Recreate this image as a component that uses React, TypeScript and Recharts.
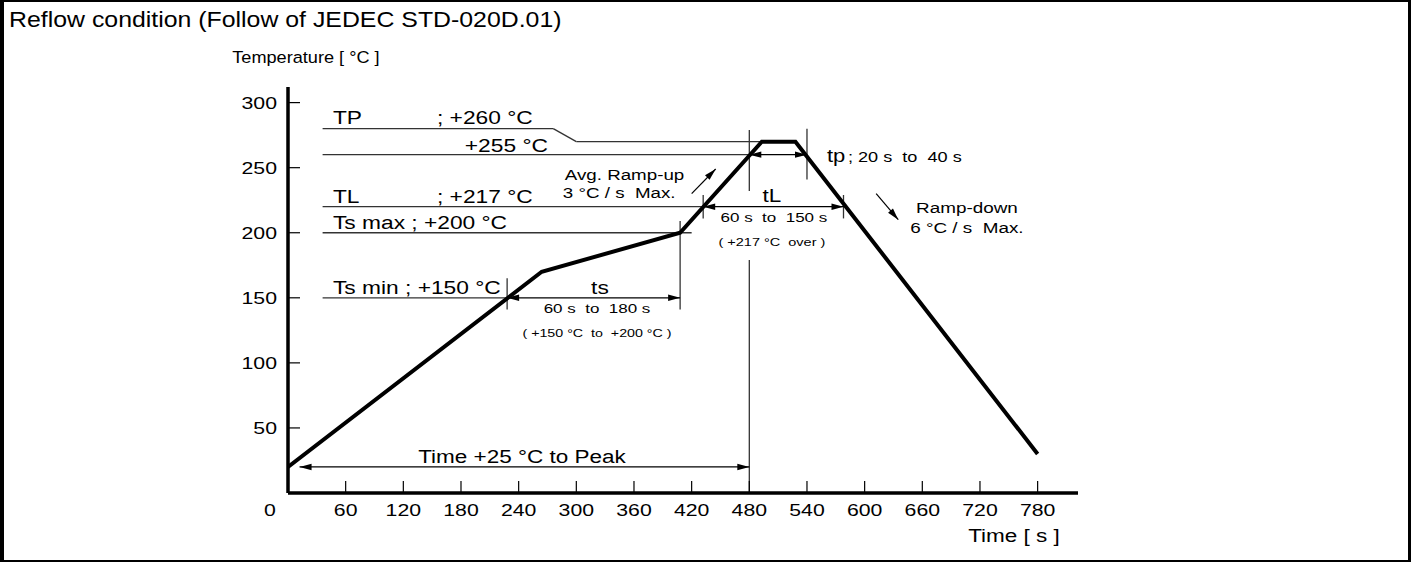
import React from "react";
import { LineChart, Line, XAxis, YAxis, ReferenceLine, ReferenceDot } from "recharts";

const FONT = "'Liberation Sans', Arial, Helvetica, sans-serif";
// the source drawing is stretched sideways, so text is too
const SX = 1.25;

// reflow profile: time [s] -> temperature [°C]
const profileTime = [0, 264, 408, 493, 528, 780];
const profileTemp = [20, 170, 200, 270, 270, 30];

const timeTicks = [0, 60, 120, 180, 240, 300, 360, 420, 480, 540, 600, 660, 720, 780];
const tempTicks = [50, 100, 150, 200, 250, 300];

// thin guide lines, as [time, temp] pairs
const tpGuide = [[36, 280], [276, 280], [300, 270], [493, 270]];
const levelGuides = [
    [[36, 260], [480, 260]],
    [[36, 220], [432, 220]],
    [[36, 200], [420, 200]],
    [[36, 150], [228, 150]],
];
const markers = [
    [[228, 141], [228, 165]],
    [[408, 141], [408, 209]],
    [[432, 211], [432, 229]],
    [[578, 211], [578, 229]],
    [[480, 232], [480, 279]],
    [[480, 0], [480, 179]],
    [[540, 241], [540, 280]],
];
// double headed spans
const spans = [
    [[228, 150], [408, 150]],
    [[432, 220], [578, 220]],
    [[480, 260], [540, 260]],
    [[12, 20], [480, 20]],
];
// ramp arrows (head at second point)
const slopes = [
    [[420, 230], [445, 249]],
    [[612, 230], [635, 210]],
];

const data = profileTime.map((t, i) => ({ t, T: profileTemp[i] }));

const SText = ({ x, y, size, anchor = "start", sx = SX, children }: any) => (
    <text
        transform={`translate(${x},${y}) scale(${sx},1)`}
        fontSize={size}
        textAnchor={anchor}
        fontFamily={FONT}
        fill="#000"
        style={{ whiteSpace: "pre" }}
    >
        {children}
    </text>
);

const head = (x1: number, y1: number, x2: number, y2: number) => {
    const a = Math.atan2(y2 - y1, x2 - x1);
    const len = 12, w = 3.2;
    const bx = x2 - len * Math.cos(a), by = y2 - len * Math.sin(a);
    const nx = -Math.sin(a) * w, ny = Math.cos(a) * w;
    return <polygon points={`${x2},${y2} ${bx + nx},${by + ny} ${bx - nx},${by - ny}`} fill="#000" />;
};

const arrowShape = (both: boolean) => (p: any) => {
    const { x1, y1, x2, y2 } = p;
    return (
        <g>
            <line x1={x1} y1={y1} x2={x2} y2={y2} stroke="#000" strokeWidth={1.2} />
            {head(x1, y1, x2, y2)}
            {both && head(x2, y2, x1, y1)}
        </g>
    );
};

const seg = (s: number[][], key: string, shape?: any) => (
    <ReferenceLine
        key={key}
        segment={[{ x: s[0][0], y: s[0][1] }, { x: s[1][0], y: s[1][1] }]}
        stroke="#333"
        strokeWidth={1.3}
        ifOverflow="visible"
        shape={shape}
    />
);

const note = (text: string, t: number, T: number, size: number, anchor = "start", sx = SX) => (
    <ReferenceDot
        key={text + t + T}
        x={t}
        y={T}
        r={1}
        ifOverflow="visible"
        shape={(p: any) => (
            <SText x={p.cx} y={p.cy} size={size} anchor={anchor} sx={sx}>
                {text}
            </SText>
        )}
    />
);

const XTick = (props: any) => {
    const { x, y, payload } = props;
    if (payload.value === 0) {
        return <SText x={x - 18} y={y + 23} size={17} anchor="middle">0</SText>;
    }
    return (
        <g>
            <line x1={x} y1={y} x2={x} y2={y - 12} stroke="#000" strokeWidth={1.2} />
            <SText x={x} y={y + 23} size={17} anchor="middle">{payload.value}</SText>
        </g>
    );
};

const YTick = (props: any) => {
    const { x, y, payload } = props;
    return (
        <g>
            <line x1={x} y1={y} x2={x + 12} y2={y} stroke="#000" strokeWidth={1.2} />
            <SText x={x - 11} y={y + 6} size={17} anchor="end">{payload.value}</SText>
        </g>
    );
};

export default function App() {
    const tpSegs = tpGuide.slice(1).map((p, i) => [tpGuide[i], p]);
    return (
        <div style={{ position: "absolute", left: 0, top: 0, width: 1411, height: 562, background: "#fff" }}>
            <svg width={1411} height={40} style={{ position: "absolute", left: 0, top: 0 }}>
                <SText x={9} y={26.5} size={22} sx={1.13}>Reflow condition (Follow of JEDEC STD-020D.01)</SText>
            </svg>
            <div style={{ position: "absolute", left: 0, top: 0 }}>
                <LineChart width={1411} height={562} data={data} margin={{ top: 87, right: 333, bottom: 29, left: 228 }}>
                    <XAxis
                        dataKey="t"
                        type="number"
                        domain={[0, 822]}
                        ticks={timeTicks}
                        interval={0}
                        height={40}
                        tickSize={0}
                        tickMargin={0}
                        tickLine={false}
                        tick={XTick}
                        axisLine={{ stroke: "#000", strokeWidth: 3.5 }}
                        allowDataOverflow
                    />
                    <YAxis
                        type="number"
                        domain={[0, 312]}
                        ticks={tempTicks}
                        interval={0}
                        width={60}
                        tickSize={0}
                        tickMargin={0}
                        tickLine={false}
                        tick={YTick}
                        axisLine={{ stroke: "#000", strokeWidth: 3.5 }}
                        allowDataOverflow
                    />

                    {tpSegs.map((s, i) => seg(s, "tp" + i))}
                    {levelGuides.map((s, i) => seg(s, "lv" + i))}
                    {markers.map((s, i) => seg(s, "mk" + i))}
                    {spans.map((s, i) => seg(s, "sp" + i, arrowShape(true)))}
                    {slopes.map((s, i) => seg(s, "sl" + i, arrowShape(false)))}

                    <Line
                        dataKey="T"
                        type="linear"
                        stroke="#000"
                        strokeWidth={4}
                        dot={false}
                        activeDot={false}
                        isAnimationActive={false}
                    />

                    {note("Temperature [ °C ]", -58, 330.8, 16.5, "start", 1.1)}
                    {note("Time [ s ]", 803, -37.7, 18, "end")}
                    {note("TP", 46.8, 283.8, 18.2)}
                    {note("; +260 °C", 155, 283.8, 18.2)}
                    {note("+255 °C", 184, 262.3, 18.2)}
                    {note("TL", 46.8, 223, 18.2)}
                    {note("; +217 °C", 155, 223, 18.2)}
                    {note("Ts max ; +200 °C", 46.8, 203, 18.2)}
                    {note("Ts min ; +150 °C", 46.8, 153, 18.2)}
                    {note("ts", 324.6, 153, 18.2, "middle")}
                    {note("60 s  to  180 s", 321.5, 138.5, 13.6, "middle")}
                    {note("( +150 °C  to  +200 °C )", 321.5, 120, 11.4, "middle")}
                    {note("Avg. Ramp-up", 288, 240.8, 15)}
                    {note("3 °C / s  Max.", 286, 227, 15)}
                    {note("tL", 503.5, 223.8, 18, "middle")}
                    {note("60 s  to  150 s", 505.6, 208.5, 13.6, "middle")}
                    {note("( +217 °C  over )", 503.5, 190, 11.6, "middle")}
                    {note("tp", 560.8, 254.6, 17.6)}
                    {note("; 20 s  to  40 s", 582.6, 254.6, 14.5)}
                    {note("Ramp-down", 706.4, 215.4, 15.1, "middle")}
                    {note("6 °C / s  Max.", 706.4, 200, 15.1, "middle")}
                    {note("Time +25 °C to Peak", 243.4, 23, 18, "middle")}
                </LineChart>
            </div>
            <div
                style={{
                    position: "absolute", left: 0, top: 0, width: 1411, height: 562, boxSizing: "border-box",
                    borderStyle: "solid", borderColor: "#000", borderWidth: "2px 3px 2px 4px", pointerEvents: "none",
                }}
            />
        </div>
    );
}
